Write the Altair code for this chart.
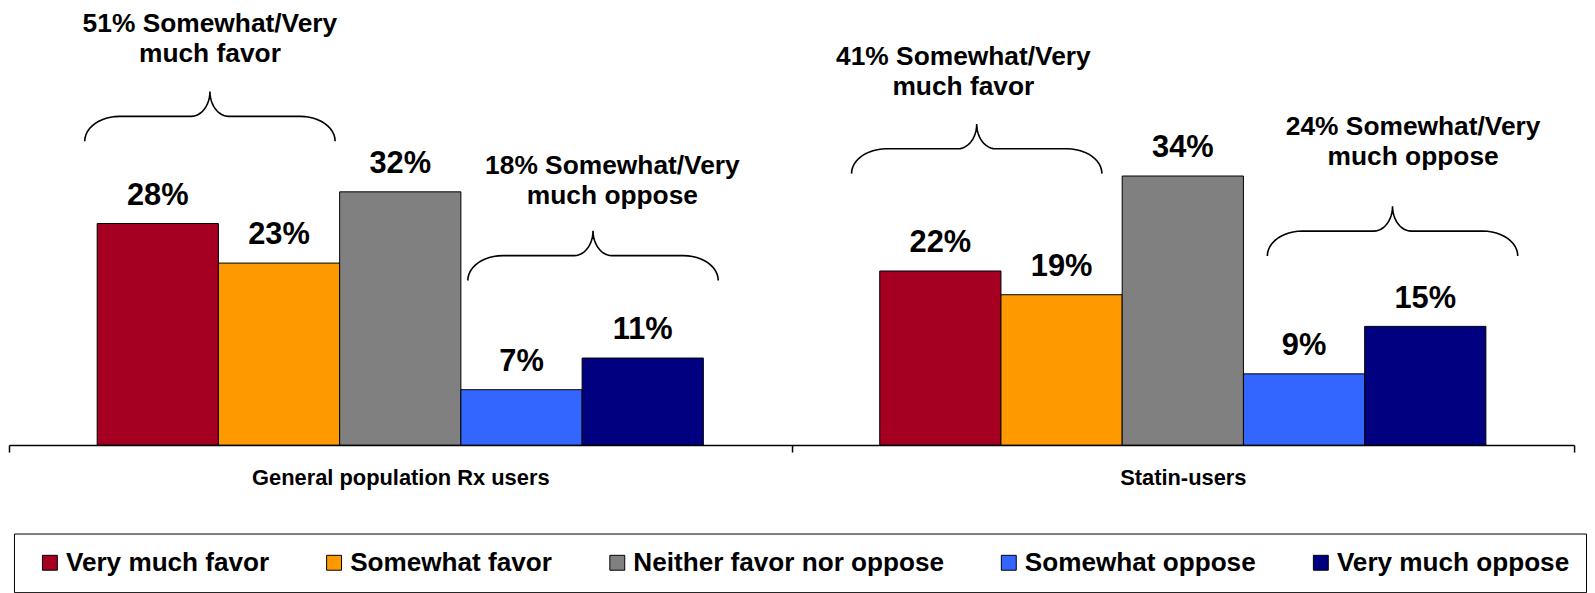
import math
import altair as alt
import pandas as pd

# ---- data ----
groups = ["General population Rx users", "Statin-users"]
categories = ["Very much favor", "Somewhat favor", "Neither favor nor oppose",
              "Somewhat oppose", "Very much oppose"]
colors = ["#A50021", "#FF9900", "#808080", "#3366FF", "#000080"]
general_values = [28, 23, 32, 7, 11]
statin_values = [22, 19, 34, 9, 15]

# annotations (brace + two-line text)
ann_text = ["51% Somewhat/Very\nmuch favor", "18% Somewhat/Very\nmuch oppose",
            "41% Somewhat/Very\nmuch favor", "24% Somewhat/Very\nmuch oppose"]
ann_group = [0, 0, 1, 1]
ann_brace_center = [0.93, 4.09, 0.80, 4.23]   # in bar widths from the group's first bar edge
ann_text_center = [0.93, 4.25, 0.69, 4.40]
ann_brace_base = [38.4, 20.8, 34.3, 23.9]     # percent units
ann_text_top = [54.8, 36.9, 50.7, 41.8]       # percent units

# ---- layout ----
W = 1575
H = 438
BAR_PX = 122
YMAX = 55
BAND = W / 2 / BAR_PX           # group band width in bar widths
PAD = (BAND - 5) / 2            # outer padding of bars inside a group (bar widths)
PX_PER_PCT = H / YMAX
FONT = "Liberation Sans"

rows = []
for g, vals in zip(groups, [general_values, statin_values]):
    for c, v in zip(categories, vals):
        rows.append({"group": g, "category": c, "value": v, "label": f"{v}%"})
df = pd.DataFrame(rows)

# brace geometry (in bar widths / percent)
half_w = 126 / BAR_PX
r_end = 35 / BAR_PX
r_tip = 19 / BAR_PX
hy = 25 / PX_PER_PCT

brace_rows = []
for b, (g, xc_rel, y0) in enumerate(zip(ann_group, ann_brace_center, ann_brace_base)):
    xc = g * BAND + PAD + xc_rel
    xl, xr = xc - half_w, xc + half_w
    pts = []
    n = 12
    for k in range(n + 1):
        t = k / n * math.pi / 2
        pts.append((xl + r_end - r_end * math.cos(t), y0 + hy * math.sin(t)))
    for k in range(n + 1):
        t = k / n * math.pi / 2
        pts.append((xc - r_tip + r_tip * math.sin(t), y0 + 2 * hy - hy * math.cos(t)))
    for k in range(n + 1):
        t = k / n * math.pi / 2
        pts.append((xc + r_tip - r_tip * math.cos(t), y0 + 2 * hy - hy * math.sin(t)))
    for k in range(n + 1):
        t = k / n * math.pi / 2
        pts.append((xr - r_end + r_end * math.sin(t), y0 + hy * math.cos(t)))
    for i, (px, py) in enumerate(pts):
        brace_rows.append({"bid": b, "o": i, "bx": px, "by": py})
brace_df = pd.DataFrame(brace_rows)

ann_df = pd.DataFrame({
    "text": ann_text,
    "tx": [g * BAND + PAD + c for g, c in zip(ann_group, ann_text_center)],
    "ty": ann_text_top,
})

y_scale = alt.Scale(domain=[0, YMAX], nice=False, zero=True)
xband = alt.Scale(domain=groups, paddingInner=0, paddingOuter=0)
xoff = alt.Scale(domain=categories, paddingInner=0, paddingOuter=PAD)
xq = alt.Scale(domain=[0, 2 * BAND], nice=False, zero=False)

x_axis = alt.Axis(title=None, orient="bottom", tickBand="extent", tickSize=7,
                  tickColor="black", tickWidth=1.5, domainColor="black", domainWidth=1.5,
                  labelFont=FONT, labelFontWeight="bold", labelFontSize=22,
                  labelColor="black", labelPadding=16, labelAngle=0,
                  labelLimit=600, grid=False)

bars = alt.Chart(df).mark_bar(stroke="black", strokeWidth=1).encode(
    x=alt.X("group:N", sort=groups, scale=xband, axis=x_axis),
    xOffset=alt.XOffset("category:N", sort=categories, scale=xoff),
    y=alt.Y("value:Q", scale=y_scale, axis=None),
    color=alt.Color("category:N", sort=categories,
                    scale=alt.Scale(domain=categories, range=colors),
                    legend=alt.Legend(
                        title=" ", titleOrient="left", titleFontSize=1, titlePadding=7,
                        orient="none", legendX=5, legendY=527,
                        direction="horizontal", columns=5, columnPadding=52,
                        symbolType="square", symbolSize=225,
                        symbolStrokeColor="black", symbolStrokeWidth=1,
                        labelFont=FONT, labelFontWeight="bold", labelFontSize=26.3,
                        labelColor="black", labelOffset=3, labelLimit=600,
                        padding=16, strokeColor="black", fillColor="white")),
)

labels = alt.Chart(df).mark_text(
    baseline="alphabetic", dy=-19, font=FONT, fontWeight="bold", fontSize=31, color="black"
).encode(
    x=alt.X("group:N", sort=groups, scale=xband, axis=x_axis),
    xOffset=alt.XOffset("category:N", sort=categories, scale=xoff),
    y=alt.Y("value:Q", scale=y_scale, axis=None),
    text="label:N",
)

braces = alt.Chart(brace_df).mark_line(color="black", strokeWidth=1.6).encode(
    x=alt.X("bx:Q", scale=xq, axis=None),
    y=alt.Y("by:Q", scale=y_scale, axis=None),
    detail="bid:N",
    order="o:Q",
)

ann = alt.Chart(ann_df).mark_text(
    align="center", baseline="top", lineBreak="\n", lineHeight=30,
    font=FONT, fontWeight="bold", fontSize=26.5, color="black"
).encode(
    x=alt.X("tx:Q", scale=xq, axis=None),
    y=alt.Y("ty:Q", scale=y_scale, axis=None),
    text="text:N",
)

chart = alt.layer(
    alt.layer(bars, labels),
    alt.layer(braces, ann),
).resolve_scale(x="independent").properties(
    width=W, height=H, padding=0
).configure_view(stroke=None)

chart.save("out.html", embed_options={"renderer": "svg", "actions": False})
